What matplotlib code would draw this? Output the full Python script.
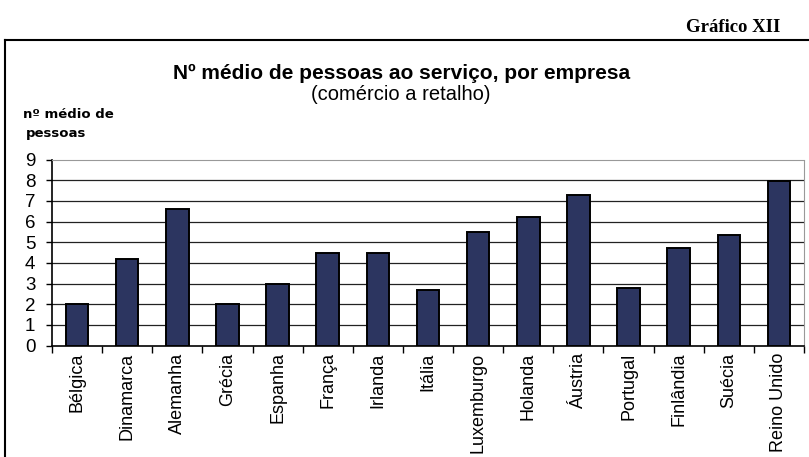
import numpy as np
import matplotlib.pyplot as plt
from matplotlib.lines import Line2D

paises = ['Bélgica', 'Dinamarca', 'Alemanha', 'Grécia', 'Espanha', 'França',
          'Irlanda', 'Itália', 'Luxemburgo', 'Holanda', 'Áustria', 'Portugal',
          'Finlândia', 'Suécia', 'Reino Unido']
pessoas = [2.0, 4.2, 6.6, 2.0, 3.0, 4.5, 4.5, 2.7, 5.5, 6.2, 7.3, 2.8, 4.7, 5.35, 7.95]
yticks = list(range(0, 10))

W, H = 809, 457
fig = plt.figure(figsize=(W / 100, H / 100), dpi=100)
ax = fig.add_axes([52 / W, 1 - 345.5 / H, (804 - 52) / W, (345.5 - 159.5) / H])

x = np.arange(len(paises))
ax.bar(x, pessoas, width=0.45, color='#2c3560', edgecolor='black', linewidth=1.4, zorder=3)

ax.set_xlim(-0.5, len(paises) - 0.5)
ax.set_ylim(0, 9)
ax.set_yticks(yticks)
ax.set_yticklabels([str(v) for v in yticks], fontsize=13.5, family='Liberation Sans')
for v in yticks[1:-1]:
    ax.axhline(v, color='#222222', lw=0.9, zorder=1)

ax.set_xticks(x)
ax.set_xticklabels(paises, rotation=90, fontsize=13, family='Liberation Sans')
ax.set_xticks(np.arange(-0.5, len(paises)), minor=True)
ax.tick_params(axis='x', which='major', length=0, pad=5)
ax.tick_params(axis='x', which='minor', length=5, width=1, direction='out')
ax.tick_params(axis='y', length=4, width=1, pad=8)

for s in ['top', 'right']:
    ax.spines[s].set_color('#999999')
    ax.spines[s].set_linestyle((0, (2, 1)))
    ax.spines[s].set_linewidth(0.8)
ax.spines['left'].set_linewidth(1.2)
ax.spines['bottom'].set_linewidth(1.2)

# moldura exterior
fig.add_artist(Line2D([5 / W, 5 / W], [0, 1 - 40 / H], color='black', lw=1.5))
fig.add_artist(Line2D([5 / W, 1], [1 - 40 / H, 1 - 40 / H], color='black', lw=1.5))

fig.text(780 / W, 1 - 27 / H, 'Gráfico XII', ha='right', va='center',
         fontsize=13.5, fontweight='bold', family='Liberation Serif')
fig.text(402 / W, 1 - 73 / H, 'Nº médio de pessoas ao serviço, por empresa',
         ha='center', va='center', fontsize=15, fontweight='bold', family='Liberation Sans')
fig.text(401 / W, 1 - 95 / H, '(comércio a retalho)', ha='center', va='center',
         fontsize=14.5, family='Liberation Sans')
fig.text(23 / W, 1 - 114 / H, 'nº médio de', ha='left', va='center',
         fontsize=9.5, fontweight='bold', family='DejaVu Sans')
fig.text(26 / W, 1 - 133 / H, 'pessoas', ha='left', va='center',
         fontsize=9.5, fontweight='bold', family='DejaVu Sans')

fig.savefig('out.png', dpi=100)
